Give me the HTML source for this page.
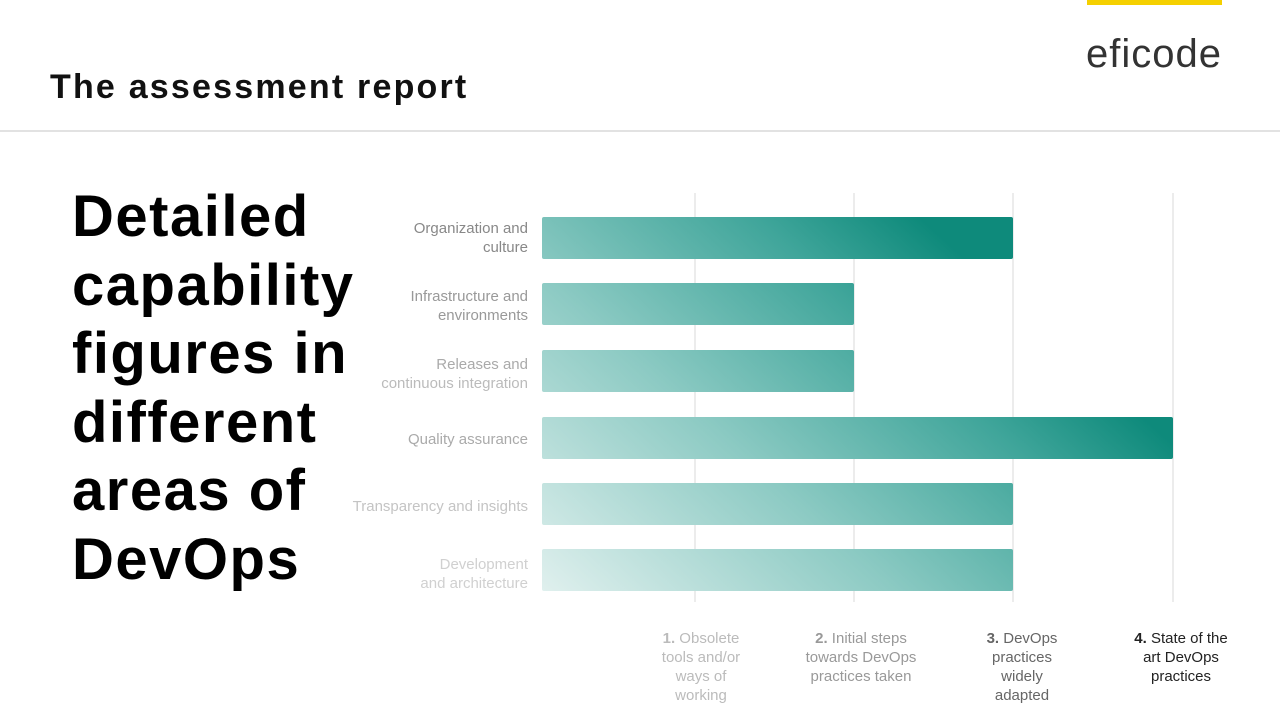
<!DOCTYPE html>
<html><head><meta charset="utf-8"><style>
body{margin:0;width:1280px;height:720px;background:#fff;overflow:hidden;font-family:"Liberation Sans",sans-serif;position:relative}
.t{position:absolute;left:50px;top:68px;font-size:34px;font-weight:bold;color:#111;letter-spacing:2.2px}
.hr{position:absolute;left:0;top:130px;width:1280px;height:2px;background:#e2e2e2}
.y{position:absolute;left:1087px;top:0;width:135px;height:5px;background:#f5d000}
.logo{position:absolute;left:1086px;top:32px;font-size:40px;color:#333;letter-spacing:1px}
.big{position:absolute;left:72px;top:183px;font-size:58px;font-weight:bold;line-height:68.5px;color:#000;letter-spacing:1.5px}
</style></head><body>
<div class="y"></div>
<div class="logo">eficode</div>
<div class="t">The assessment report</div>
<div class="hr"></div>
<div class="big">Detailed<br>capability<br>figures in<br>different<br>areas of<br>DevOps</div>
<svg width="1280" height="720" style="position:absolute;left:0;top:0">
<defs><linearGradient id="g" gradientUnits="userSpaceOnUse" x1="542" y1="600" x2="900" y2="200">
<stop offset="0" stop-color="#e2f1ef"/><stop offset="0.45" stop-color="#8ccac3"/><stop offset="0.8" stop-color="#3fa59a"/><stop offset="1" stop-color="#0e8a7b"/></linearGradient></defs>
<g stroke="#e6e6e6" stroke-width="1.5">
<line x1="695" y1="193" x2="695" y2="602"/><line x1="854" y1="193" x2="854" y2="602"/><line x1="1013" y1="193" x2="1013" y2="602"/><line x1="1173" y1="193" x2="1173" y2="602"/></g>
<g fill="url(#g)">
<rect x="542" y="217" width="471" height="42" rx="2"/>
<rect x="542" y="283" width="312" height="42" rx="2"/>
<rect x="542" y="350" width="312" height="42" rx="2"/>
<rect x="542" y="417" width="631" height="42" rx="2"/>
<rect x="542" y="483" width="471" height="42" rx="2"/>
<rect x="542" y="549" width="471" height="42" rx="2"/>
</g>
<g font-size="15" text-anchor="end" font-family="Liberation Sans,sans-serif">
<text x="528" y="233" fill="#888">Organization and</text><text x="528" y="252" fill="#888">culture</text>
<text x="528" y="301" fill="#999">Infrastructure and</text><text x="528" y="320" fill="#999">environments</text>
<text x="528" y="369" fill="#aaa">Releases and</text><text x="528" y="388" fill="#bbb">continuous integration</text>
<text x="528" y="444" fill="#aaa">Quality assurance</text>
<text x="528" y="511" fill="#c4c4c4">Transparency and insights</text>
<text x="528" y="569" fill="#d0d0d0">Development</text><text x="528" y="588" fill="#d0d0d0">and architecture</text>
</g>
<g font-size="15" text-anchor="middle" font-family="Liberation Sans,sans-serif">
<g fill="#bbb"><text x="701" y="643"><tspan font-weight="bold">1.</tspan> Obsolete</text><text x="701" y="662">tools and/or</text><text x="701" y="681">ways of</text><text x="701" y="700">working</text></g>
<g fill="#999"><text x="861" y="643"><tspan font-weight="bold">2.</tspan> Initial steps</text><text x="861" y="662">towards DevOps</text><text x="861" y="681">practices taken</text></g>
<g fill="#666"><text x="1022" y="643"><tspan font-weight="bold">3.</tspan> DevOps</text><text x="1022" y="662">practices</text><text x="1022" y="681">widely</text><text x="1022" y="700">adapted</text></g>
<g fill="#222"><text x="1181" y="643"><tspan font-weight="bold">4.</tspan> State of the</text><text x="1181" y="662">art DevOps</text><text x="1181" y="681">practices</text></g>
</g>
</svg>
</body></html>
